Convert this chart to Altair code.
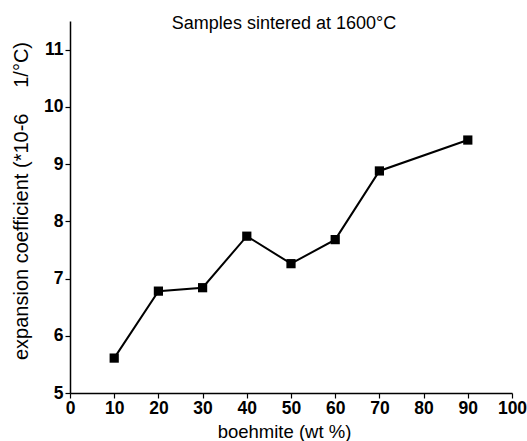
import altair as alt
import pandas as pd

# ---- data ----
boehmite = [10, 20, 30, 40, 50, 60, 70, 90]
coefficient = [5.61, 6.78, 6.84, 7.74, 7.26, 7.68, 8.88, 9.42]
x_tick_values = [0, 5, 10, 15, 20, 25, 30, 35, 40, 45, 50, 55, 60, 65, 70, 75, 80, 85, 90, 95, 100]
y_tick_values = [5, 5.5, 6, 6.5, 7, 7.5, 8, 8.5, 9, 9.5, 10, 10.5, 11]
plot_title = "Samples sintered at 1600°C"
x_title = "boehmite (wt %)"
y_title_main = "expansion coefficient (*10-6"
y_title_unit = "1/°C)"

df = pd.DataFrame({"b": boehmite, "c": coefficient})

FONT = "Liberation Sans"

x_axis = alt.Axis(
    values=x_tick_values,
    labelExpr="datum.value % 10 === 0 ? format(datum.value, 'd') : ''",
    tickSize={"condition": {"test": "datum.value % 10 !== 0", "value": 3}, "value": 5},
    tickColor="black", tickWidth=1.2,
    domainColor="black", domainWidth=1.5,
    labelFont=FONT, labelFontSize=17.5, labelFontWeight="bold", labelColor="black",
    labelPadding=1, labelFlush=False, labelOverlap=False, labelBound=False,
    title=x_title, titleFont=FONT, titleFontSize=18.5, titleFontWeight="normal",
    titleColor="black", titleX=214, titleY=44, titleBaseline="alphabetic",
    grid=False,
)
y_axis = alt.Axis(
    values=y_tick_values,
    labelExpr="datum.value % 1 === 0 ? format(datum.value, 'd') : ''",
    tickSize={"condition": {"test": "datum.value % 1 !== 0", "value": 3}, "value": 5},
    tickColor="black", tickWidth=1.2,
    domainColor="black", domainWidth=1.5,
    labelFont=FONT, labelFontSize=17.5, labelFontWeight="bold", labelColor="black",
    labelPadding=2, labelFlush=False, labelOverlap=False, labelBound=False,
    title=None,
    grid=False,
)

x_enc = alt.X("b:Q", scale=alt.Scale(domain=[0, 100], nice=False, zero=False), axis=x_axis)
y_enc = alt.Y("c:Q", scale=alt.Scale(domain=[5, 11.5], nice=False, zero=False), axis=y_axis)

line = alt.Chart(df).mark_line(color="black", strokeWidth=2).encode(x=x_enc, y=y_enc)
points = alt.Chart(df).mark_point(shape="square", filled=True, size=85, color="black", opacity=1).encode(
    x="b:Q", y="c:Q"
)

title = alt.Chart(pd.DataFrame({"t": [plot_title]})).mark_text(
    font=FONT, fontSize=18, color="black", baseline="alphabetic", align="center"
).encode(x=alt.value(214), y=alt.value(8), text="t:N")

ytitle_main = alt.Chart(pd.DataFrame({"t": [y_title_main]})).mark_text(
    font=FONT, fontSize=20, color="black", baseline="alphabetic", align="left", angle=270
).encode(x=alt.value(-42), y=alt.value(339), text="t:N")

ytitle_unit = alt.Chart(pd.DataFrame({"t": [y_title_unit]})).mark_text(
    font=FONT, fontSize=20, color="black", baseline="alphabetic", align="right", angle=270
).encode(x=alt.value(-42), y=alt.value(21), text="t:N")

chart = (
    alt.layer(line, points, title, ytitle_main, ytitle_unit)
    .properties(
        width=442, height=372,
        autosize=alt.AutoSizeParams(type="none"),
        padding={"left": 70, "top": 21, "right": 15, "bottom": 48},
        background="white",
    )
    .configure_view(stroke=None)
)

chart.save("out.html", embed_options={"renderer": "svg", "actions": False})
